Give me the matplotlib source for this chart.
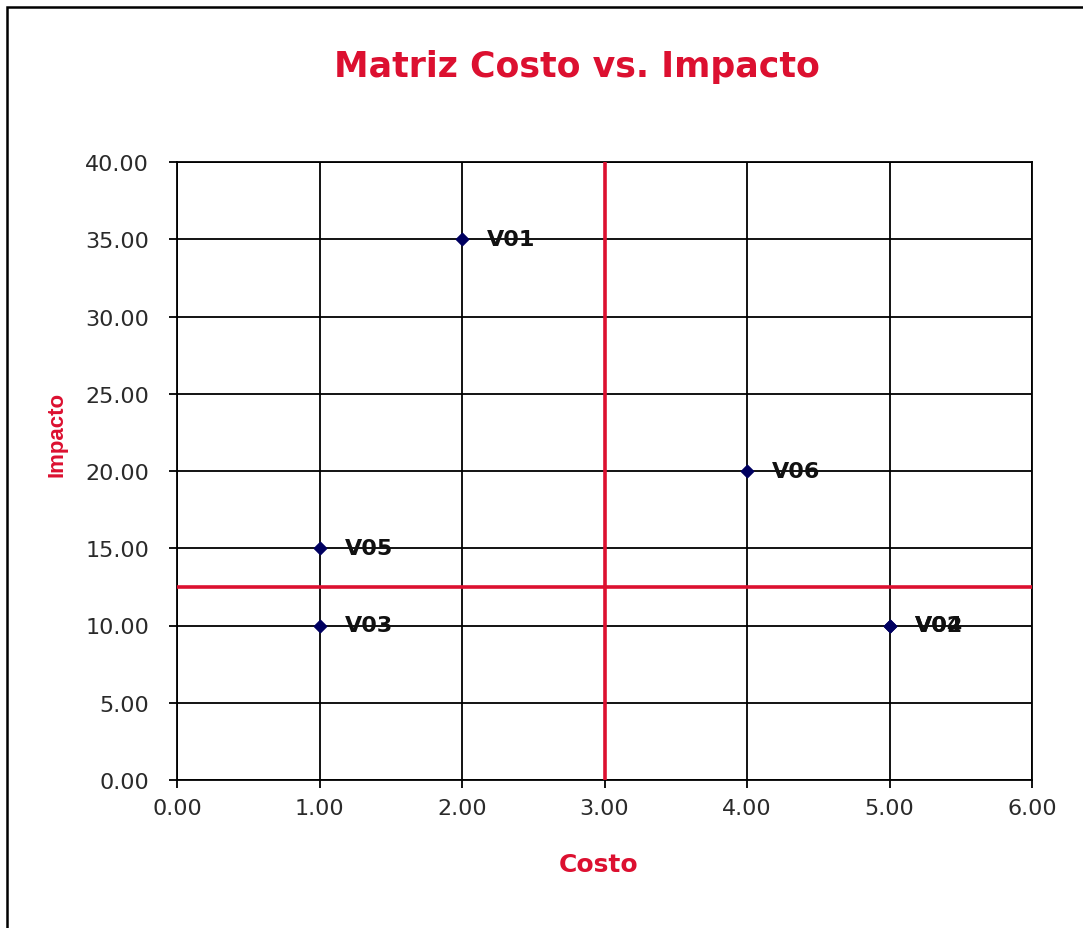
import matplotlib
matplotlib.use("Agg")
import matplotlib.pyplot as plt
from matplotlib.patches import Rectangle

# cost / impact for each item
nombres = ["V01", "V02", "V03", "V04", "V05", "V06"]
costo = [2.0, 5.0, 1.0, 5.0, 1.0, 4.0]
impacto = [35.0, 10.0, 10.0, 10.0, 15.0, 20.0]

corte_costo = 3.0
corte_impacto = 12.5

x_ticks = [0, 1, 2, 3, 4, 5, 6]
y_ticks = [0, 5, 10, 15, 20, 25, 30, 35, 40]

rojo = "#dc1030"

fig = plt.figure(figsize=(10.83, 9.29), dpi=100)
fig.patch.set_facecolor("white")

# frame around the chart area (only left/top visible)
fig.patches.append(Rectangle((7 / 1083, -0.05), 1.2, 1 - 8 / 929 + 0.05,
                             transform=fig.transFigure, fill=False,
                             edgecolor="black", linewidth=1.8))

ax = fig.add_axes([177 / 1083, 1 - 781 / 929, 855 / 1083, 618 / 929])

ax.set_xlim(0, 6)
ax.set_ylim(0, 40)
ax.set_xticks(x_ticks)
ax.set_yticks(y_ticks)
ax.set_xticklabels(["%.2f" % v for v in x_ticks])
ax.set_yticklabels(["%.2f" % v for v in y_ticks])
ax.grid(True, color="black", linewidth=1.3)
ax.set_axisbelow(True)
for s in ax.spines.values():
    s.set_linewidth(1.3)
ax.tick_params(length=6, width=1.3, colors="black", labelsize=16)
ax.tick_params(axis="y", pad=14)
ax.tick_params(axis="x", pad=7)
for lab in ax.get_xticklabels() + ax.get_yticklabels():
    lab.set_family("DejaVu Sans")
    lab.set_color("#2a2a2a")

# quadrant dividers
ax.axvline(corte_costo, color=rojo, linewidth=2.6, zorder=3)
ax.axhline(corte_impacto, color=rojo, linewidth=2.6, zorder=3)

ax.scatter(costo, impacto, marker="D", s=40, color="#000060", zorder=4)
for n, cx, cy in zip(nombres, costo, impacto):
    ax.annotate(n, (cx, cy), xytext=(18, 0), textcoords="offset points",
                va="center", ha="left", fontsize=16, fontweight="bold",
                family="DejaVu Sans", color="#111111", zorder=5)

fig.text(577 / 1083, 1 - 67 / 929, "Matriz Costo vs. Impacto", ha="center",
         va="center", fontsize=25, fontweight="bold", color=rojo,
         family="DejaVu Sans")
fig.text(599 / 1083, 1 - 865 / 929, "Costo", ha="center", va="center",
         fontsize=18, fontweight="bold", color=rojo, family="DejaVu Sans")
fig.text(57 / 1083, 1 - 434 / 929, "Impacto", ha="center", va="center",
         rotation=90, fontsize=16, fontweight="bold", color=rojo,
         family=["Liberation Sans Narrow", "Liberation Sans"])

fig.savefig("out.png", dpi=100)
